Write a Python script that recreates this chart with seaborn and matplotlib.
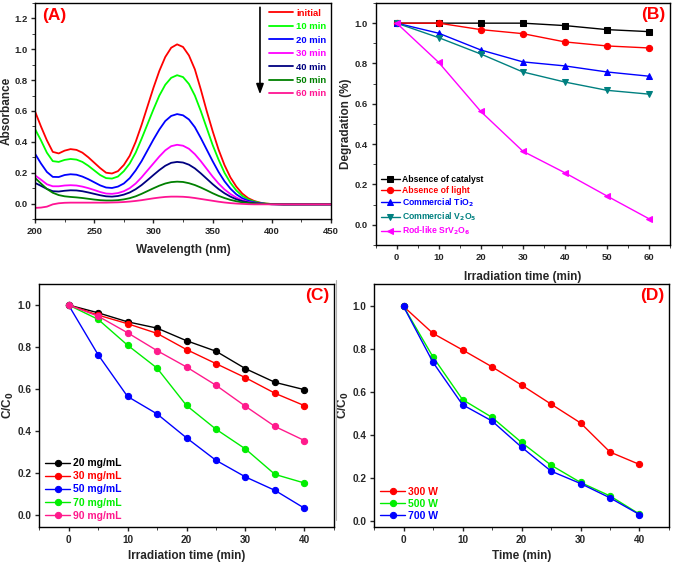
import numpy as np
import pandas as pd
import matplotlib
matplotlib.use('Agg')
import matplotlib.pyplot as plt
from matplotlib.ticker import MultipleLocator, FormatStrFormatter
from matplotlib.lines import Line2D
import seaborn as sns

# ---- panel A: UV-vis spectra ----
wavelength = [200, 205, 210, 215, 220, 225, 230, 235, 240, 245, 250, 255, 260, 265,
              270, 275, 280, 285, 290, 295, 300, 305, 310, 315, 320, 325, 330, 335,
              340, 345, 350, 355, 360, 365, 370, 375, 380, 385, 390, 395, 400,
              410, 420, 430, 440, 450]
abs_initial = [0.597, 0.50, 0.41, 0.335, 0.325, 0.343, 0.353, 0.348, 0.33, 0.30, 0.265, 0.23, 0.20, 0.195,
               0.21, 0.25, 0.31, 0.40, 0.51, 0.63, 0.75, 0.86, 0.95, 1.01, 1.032, 1.015, 0.96, 0.87,
               0.74, 0.60, 0.47, 0.35, 0.25, 0.17, 0.11, 0.065, 0.035, 0.017, 0.006, 0.0, -0.003,
               -0.005, -0.005, -0.005, -0.005, -0.005]
abs_10 = [0.483, 0.41, 0.33, 0.275, 0.27, 0.283, 0.289, 0.285, 0.27, 0.245, 0.215, 0.185, 0.165, 0.162,
          0.175, 0.21, 0.26, 0.33, 0.42, 0.515, 0.61, 0.70, 0.77, 0.815, 0.832, 0.82, 0.775, 0.70,
          0.60, 0.49, 0.38, 0.285, 0.20, 0.135, 0.085, 0.05, 0.027, 0.013, 0.005, 0.0, -0.003,
          -0.005, -0.005, -0.005, -0.005, -0.005]
abs_20 = [0.323, 0.26, 0.205, 0.173, 0.172, 0.185, 0.19, 0.187, 0.175, 0.158, 0.138, 0.118, 0.104, 0.101,
          0.11, 0.13, 0.165, 0.215, 0.275, 0.345, 0.415, 0.48, 0.535, 0.568, 0.58, 0.572, 0.545, 0.495,
          0.425, 0.35, 0.275, 0.205, 0.145, 0.097, 0.06, 0.035, 0.018, 0.008, 0.002, -0.002, -0.004,
          -0.005, -0.005, -0.005, -0.005, -0.005]
abs_30 = [0.183, 0.155, 0.125, 0.112, 0.112, 0.117, 0.119, 0.117, 0.11, 0.10, 0.088, 0.075, 0.065, 0.063,
          0.068, 0.08, 0.10, 0.13, 0.17, 0.215, 0.26, 0.305, 0.345, 0.372, 0.381, 0.375, 0.355, 0.32,
          0.275, 0.225, 0.175, 0.13, 0.092, 0.062, 0.039, 0.022, 0.011, 0.004, 0.0, -0.003, -0.004,
          -0.005, -0.005, -0.005, -0.005, -0.005]
abs_40 = [0.134, 0.115, 0.095, 0.08, 0.078, 0.083, 0.086, 0.085, 0.08, 0.072, 0.063, 0.054, 0.047, 0.045,
          0.049, 0.058, 0.072, 0.093, 0.12, 0.152, 0.185, 0.217, 0.245, 0.264, 0.27, 0.266, 0.252, 0.228,
          0.196, 0.161, 0.126, 0.094, 0.067, 0.045, 0.028, 0.016, 0.008, 0.003, 0.0, -0.003, -0.004,
          -0.005, -0.005, -0.005, -0.005, -0.005]
abs_50 = [0.166, 0.13, 0.095, 0.07, 0.055, 0.047, 0.043, 0.04, 0.036, 0.031, 0.026, 0.022, 0.02, 0.02,
          0.022, 0.027, 0.035, 0.047, 0.063, 0.081, 0.099, 0.116, 0.13, 0.139, 0.142, 0.14, 0.132, 0.12,
          0.104, 0.086, 0.067, 0.05, 0.036, 0.024, 0.015, 0.008, 0.004, 0.001, -0.001, -0.003, -0.004,
          -0.005, -0.005, -0.005, -0.005, -0.005]
abs_60 = [-0.028, -0.026, -0.02, -0.005, 0.002, 0.005, 0.006, 0.006, 0.006, 0.006, 0.006, 0.006, 0.006, 0.007,
          0.008, 0.01, 0.013, 0.017, 0.022, 0.028, 0.034, 0.039, 0.043, 0.045, 0.045, 0.044, 0.041, 0.036,
          0.03, 0.024, 0.018, 0.012, 0.007, 0.003, 0.0, -0.002, -0.004, -0.005, -0.005, -0.005, -0.005,
          -0.005, -0.005, -0.005, -0.005, -0.005]
spectra_labels = ['initial', '10 min', '20 min', '30 min', '40 min', '50 min', '60 min']
spectra_colors = ['#ff0000', '#00ff00', '#0000ff', '#ff00ff', '#000080', '#008000', '#ff1493']

# ---- panel B: degradation with controls ----
time_b = [0, 10, 20, 30, 40, 50, 60]
no_catalyst = [1.0, 1.0, 1.0, 1.0, 0.988, 0.968, 0.958]
no_light = [1.0, 1.0, 0.968, 0.948, 0.907, 0.887, 0.877]
tio2 = [1.0, 0.95, 0.867, 0.808, 0.788, 0.758, 0.737]
v2o5 = [1.0, 0.928, 0.847, 0.758, 0.708, 0.667, 0.648]
srv2o6 = [1.0, 0.805, 0.562, 0.365, 0.258, 0.143, 0.03]
labels_b = ['Absence of catalyst', 'Absence of light', 'Commercial TiO$_2$',
            'Commercial V$_2$O$_5$', 'Rod-like SrV$_2$O$_6$']
colors_b = ['#000000', '#ff0000', '#0000ff', '#008080', '#ff00ff']
markers_b = ['s', 'o', '^', 'v', '<']

# ---- panel C: catalyst dose ----
time_c = [0, 5, 10, 15, 20, 25, 30, 35, 40]
dose_20 = [1.0, 0.963, 0.92, 0.89, 0.83, 0.78, 0.697, 0.632, 0.597]
dose_30 = [1.0, 0.952, 0.911, 0.865, 0.788, 0.721, 0.654, 0.58, 0.521]
dose_50 = [1.0, 0.764, 0.565, 0.482, 0.368, 0.261, 0.182, 0.118, 0.033]
dose_70 = [1.0, 0.932, 0.809, 0.70, 0.522, 0.409, 0.315, 0.194, 0.153]
dose_90 = [1.0, 0.947, 0.868, 0.783, 0.705, 0.618, 0.518, 0.422, 0.355]
labels_c = ['20 mg/mL', '30 mg/mL', '50 mg/mL', '70 mg/mL', '90 mg/mL']
colors_c = ['#000000', '#ff0000', '#0000ff', '#00ee00', '#ff1a8c']

# ---- panel D: lamp power ----
time_d = [0, 5, 10, 15, 20, 25, 30, 35, 40]
power_300 = [1.0, 0.874, 0.797, 0.718, 0.633, 0.544, 0.456, 0.32, 0.262]
power_500 = [1.0, 0.764, 0.565, 0.482, 0.365, 0.259, 0.178, 0.115, 0.03]
power_700 = [1.0, 0.739, 0.541, 0.465, 0.343, 0.231, 0.173, 0.106, 0.028]
labels_d = ['300 W', '500 W', '700 W']
colors_d = ['#ff0000', '#00ee00', '#0000ff']

sns.set_style('ticks')
plt.rcParams['font.family'] = ['Liberation Sans', 'DejaVu Sans']
plt.rcParams['font.weight'] = 'bold'
plt.rcParams['axes.labelweight'] = 'bold'
plt.rcParams['axes.linewidth'] = 1.0
plt.rcParams['xtick.major.width'] = 1.0
plt.rcParams['ytick.major.width'] = 1.0
plt.rcParams['xtick.major.size'] = 3
plt.rcParams['ytick.major.size'] = 3
plt.rcParams['xtick.minor.size'] = 2
plt.rcParams['ytick.minor.size'] = 2
plt.rcParams['xtick.major.pad'] = 2.5
plt.rcParams['ytick.major.pad'] = 2.5
plt.rcParams['xtick.labelsize'] = 6.8
plt.rcParams['ytick.labelsize'] = 6.8
plt.rcParams['axes.labelsize'] = 8.5
plt.rcParams['mathtext.default'] = 'bf'

fig = plt.figure(figsize=(6.75, 5.65), dpi=100)
axA = fig.add_axes([0.0519, 0.6124, 0.4385, 0.3823])
axB = fig.add_axes([0.5566, 0.5664, 0.4360, 0.4283])
axC = fig.add_axes([0.0578, 0.0673, 0.4370, 0.4301])
axD = fig.add_axes([0.5541, 0.0673, 0.4370, 0.4301])

# faint separator line seen between the lower panels
fig.add_artist(Line2D([336 / 675, 336 / 675], [1 - 280 / 565, 1 - 520 / 565],
                      color='#b0b0b0', lw=0.8))


def box(ax):
    for s in ax.spines.values():
        s.set_visible(True)
        s.set_color('black')
        s.set_linewidth(1.0)


def colored_legend(ax, colors, size, **kw):
    leg = ax.legend(frameon=False, prop={'weight': 'bold', 'size': size}, **kw)
    for txt, c in zip(leg.get_texts(), colors):
        txt.set_color(c)
    return leg


# panel A
spectra = [abs_initial, abs_10, abs_20, abs_30, abs_40, abs_50, abs_60]
for vals, lab, c in zip(spectra, spectra_labels, spectra_colors):
    sns.lineplot(x=wavelength, y=vals, ax=axA, color=c, lw=1.3, label=lab, sort=False)
axA.set_xlim(200, 450)
axA.set_ylim(-0.1, 1.3)
axA.xaxis.set_major_locator(MultipleLocator(50))
axA.xaxis.set_minor_locator(MultipleLocator(25))
axA.yaxis.set_major_locator(MultipleLocator(0.2))
axA.yaxis.set_minor_locator(MultipleLocator(0.1))
axA.yaxis.set_major_formatter(FormatStrFormatter('%.1f'))
axA.set_xlabel('Wavelength (nm)', labelpad=6)
axA.set_ylabel('Absorbance', labelpad=1)
colored_legend(axA, spectra_colors, 6.8, loc='upper right', handlelength=2.6, handletextpad=0.3,
               labelspacing=0.47, borderaxespad=0.1, bbox_to_anchor=(1.0, 0.995))
axA.annotate('', xy=(390, 0.69), xytext=(390, 1.29),
             arrowprops=dict(arrowstyle='-|>,head_width=0.22,head_length=0.6', color='black', lw=1.2))
axA.text(0.025, 0.975, '(A)', transform=axA.transAxes, color='red', fontsize=12.5,
         fontweight='bold', va='top', ha='left')

# panel B
series_b = [no_catalyst, no_light, tio2, v2o5, srv2o6]
for vals, lab, c, m in zip(series_b, labels_b, colors_b, markers_b):
    sns.lineplot(x=time_b, y=vals, ax=axB, color=c, marker=m, markersize=4.5, lw=1.0,
                 markeredgecolor=c, label=lab)
axB.set_xlim(-5, 65)
axB.set_ylim(-0.1, 1.1)
axB.xaxis.set_major_locator(MultipleLocator(10))
axB.xaxis.set_minor_locator(MultipleLocator(5))
axB.yaxis.set_major_locator(MultipleLocator(0.2))
axB.yaxis.set_minor_locator(MultipleLocator(0.1))
axB.yaxis.set_major_formatter(FormatStrFormatter('%.1f'))
axB.set_xlabel('Irradiation time (min)', labelpad=7)
axB.set_ylabel('Degradation (%)', labelpad=2)
colored_legend(axB, colors_b, 6.2, loc='lower left', handlelength=2.2, handletextpad=0.2,
               labelspacing=0.2, borderaxespad=0.2, bbox_to_anchor=(0.0, 0.01))
axB.text(0.985, 0.985, '(B)', transform=axB.transAxes, color='red', fontsize=12.5,
         fontweight='bold', va='top', ha='right')

# panel C
series_c = [dose_20, dose_30, dose_50, dose_70, dose_90]
for vals, lab, c in zip(series_c, labels_c, colors_c):
    sns.lineplot(x=time_c, y=vals, ax=axC, color=c, marker='o', markersize=4.5, lw=1.0,
                 markeredgecolor=c, label=lab)
axC.set_xlim(-5, 45)
axC.set_ylim(-0.056, 1.10)
axC.xaxis.set_major_locator(MultipleLocator(10))
axC.xaxis.set_minor_locator(MultipleLocator(5))
axC.yaxis.set_major_locator(MultipleLocator(0.2))
axC.yaxis.set_major_formatter(FormatStrFormatter('%.1f'))
axC.tick_params(labelsize=7.2)
axC.set_xlabel('Irradiation time (min)', labelpad=4)
axC.set_ylabel('C/C$_0$', labelpad=1)
colored_legend(axC, colors_c, 7.5, loc='lower left', handlelength=2.4, handletextpad=0.3,
               labelspacing=0.3, borderaxespad=0.2, bbox_to_anchor=(0.0, 0.0))
axC.text(0.985, 0.985, '(C)', transform=axC.transAxes, color='red', fontsize=12.5,
         fontweight='bold', va='top', ha='right')

# panel D
series_d = [power_300, power_500, power_700]
for vals, lab, c in zip(series_d, labels_d, colors_d):
    sns.lineplot(x=time_d, y=vals, ax=axD, color=c, marker='o', markersize=4.5, lw=1.0,
                 markeredgecolor=c, label=lab)
axD.set_xlim(-5, 45)
axD.set_ylim(-0.03, 1.105)
axD.xaxis.set_major_locator(MultipleLocator(10))
axD.xaxis.set_minor_locator(MultipleLocator(5))
axD.yaxis.set_major_locator(MultipleLocator(0.2))
axD.yaxis.set_major_formatter(FormatStrFormatter('%.1f'))
axD.tick_params(labelsize=7.2)
axD.set_xlabel('Time (min)', labelpad=4)
axD.set_ylabel('C/C$_0$', labelpad=1)
colored_legend(axD, colors_d, 7.5, loc='lower left', handlelength=2.4, handletextpad=0.3,
               labelspacing=0.2, borderaxespad=0.2, bbox_to_anchor=(0.0, 0.0))
axD.text(0.985, 0.985, '(D)', transform=axD.transAxes, color='red', fontsize=12.5,
         fontweight='bold', va='top', ha='right')

for ax in [axA, axB, axC, axD]:
    box(ax)
    ax.tick_params(which='both', direction='out', top=False, right=False)

fig.savefig('out.png', dpi=100)
